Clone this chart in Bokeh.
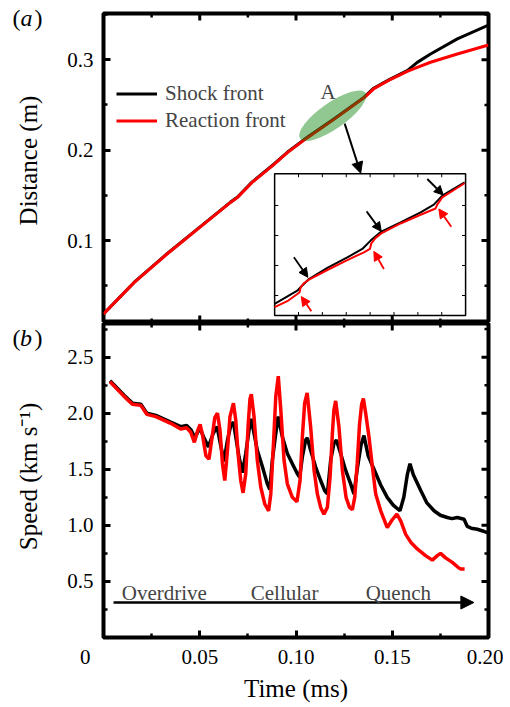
import math
from bokeh.plotting import figure
from bokeh.layouts import column, row
from bokeh.models import (Range1d, FixedTicker, Label, Arrow, NormalHead,
                          Legend, LegendItem, PrintfTickFormatter)
from bokeh.core.properties import value
from bokeh.embed import file_html
from bokeh.resources import INLINE

FONT = "Liberation Serif"

# ---------------- data: panel (a) distance ----------------
time_a_shock = [0.000, 0.016, 0.033, 0.050, 0.066, 0.0695, 0.077, 0.0886, 0.0955, 0.1059,
                0.1197, 0.1353, 0.1405, 0.1492, 0.1578, 0.1630, 0.1699, 0.1838, 0.2000]
dist_shock = [0.019, 0.054, 0.0855, 0.1150, 0.1426, 0.1480, 0.1644, 0.1847, 0.1976, 0.2142,
              0.2345, 0.2583, 0.2687, 0.2787, 0.2878, 0.2970, 0.3063, 0.3229, 0.3382]
time_a_react = [0.000, 0.016, 0.033, 0.050, 0.066, 0.0695, 0.077, 0.0886, 0.0955, 0.1059,
                0.1197, 0.1353, 0.1405, 0.1492, 0.1578, 0.1630, 0.1699, 0.1838, 0.2000]
dist_react = [0.019, 0.0538, 0.0852, 0.1146, 0.1422, 0.1475, 0.1640, 0.1842, 0.1972, 0.2138,
              0.2340, 0.2578, 0.2680, 0.2783, 0.2870, 0.2915, 0.2971, 0.3063, 0.3162]

# ---------------- data: inset (zoom of region A) ----------------
inset_t_shock = [0.1040, 0.1078, 0.10847, 0.10975, 0.11283, 0.11618, 0.11869, 0.12008,
                 0.12187, 0.1251, 0.12846, 0.13068, 0.13209, 0.13583]
inset_d_shock = [0.2172, 0.2216, 0.2230, 0.2255, 0.2292, 0.2327, 0.2355, 0.2383,
                 0.2413, 0.2444, 0.2477, 0.2503, 0.2533, 0.2577]
inset_t_react = [0.1040, 0.10613, 0.1078, 0.10819, 0.10836, 0.10891, 0.10975, 0.11283,
                 0.11618, 0.11896, 0.11997, 0.1202, 0.12092, 0.12187, 0.1251, 0.12846,
                 0.13097, 0.13125, 0.13209, 0.13583]
inset_d_react = [0.2161, 0.2181, 0.2205, 0.2211, 0.2227, 0.2241, 0.2253, 0.2285,
                 0.2318, 0.2344, 0.2355, 0.2374, 0.2392, 0.2407, 0.2440, 0.2469,
                 0.2490, 0.2503, 0.2527, 0.2574]
inset_x_ticks = [0.108, 0.112, 0.116, 0.120, 0.124, 0.128, 0.132]
inset_y_ticks = [0.22, 0.23, 0.24, 0.25]
# arrows in inset: (t_tail, d_tail, t_head, d_head)
inset_shock_arrows = [(0.10723, 0.23272, 0.10957, 0.22606),
                      (0.11941, 0.24803, 0.12187, 0.24137),
                      (0.12958, 0.25882, 0.13226, 0.25349)]
inset_react_arrows = [(0.11015, 0.21473, 0.10847, 0.21963),
                      (0.12231, 0.22885, 0.12063, 0.23471),
                      (0.13360, 0.24294, 0.13152, 0.24883)]

# ---------------- data: panel (b) speed ----------------
time_b_shock = [0.0034, 0.0107, 0.0150, 0.0194, 0.0225, 0.0272, 0.0349, 0.0401, 0.0432, 0.0455,
                0.0475, 0.0500, 0.0522, 0.0545, 0.0570, 0.0590, 0.0608, 0.0626, 0.0644, 0.0661,
                0.0675, 0.0687, 0.0704, 0.0722, 0.0739, 0.0756, 0.0768, 0.0782, 0.0799, 0.0826,
                0.0851, 0.0864, 0.0877, 0.0895, 0.0907, 0.0929, 0.0955, 0.0981, 0.1007, 0.1019,
                0.1033, 0.1050, 0.1059, 0.1076, 0.1102, 0.1128, 0.1149, 0.1163, 0.1180, 0.1197,
                0.1210, 0.1232, 0.1258, 0.1284, 0.1301, 0.1318, 0.1338, 0.1353, 0.1375, 0.1405,
                0.1440, 0.1474, 0.1505, 0.1540, 0.1560, 0.1578, 0.1592, 0.1610, 0.1648, 0.1680,
                0.1717, 0.1750, 0.1786, 0.1810, 0.1838, 0.1873, 0.1890, 0.1910, 0.1942, 0.1970,
                0.2000]
speed_shock = [2.29, 2.16, 2.09, 2.08, 2.00, 1.98, 1.92, 1.88, 1.89, 1.85,
               1.78, 1.87, 1.78, 1.70, 1.82, 1.88, 1.72, 1.57, 1.76, 1.89,
               1.92, 1.79, 1.61, 1.47, 1.64, 1.85, 1.95, 1.82, 1.67, 1.52,
               1.37, 1.32, 1.58, 1.82, 1.97, 1.79, 1.64, 1.55, 1.46, 1.43,
               1.61, 1.76, 1.78, 1.67, 1.52, 1.40, 1.31, 1.28, 1.58, 1.73,
               1.76, 1.64, 1.49, 1.37, 1.28, 1.50, 1.72, 1.80, 1.62, 1.50,
               1.36, 1.25, 1.18, 1.13, 1.25, 1.45, 1.55, 1.45, 1.31, 1.20,
               1.13, 1.09, 1.07, 1.06, 1.07, 1.055, 0.99, 0.975, 0.965, 0.95,
               0.93]
time_b_react = [0.0034, 0.0107, 0.0150, 0.0194, 0.0225, 0.0272, 0.0349, 0.0401, 0.0432, 0.0453,
                0.0472, 0.0488, 0.0502, 0.0515, 0.0532, 0.0548, 0.0562, 0.0578, 0.0592, 0.0605,
                0.0618, 0.0630, 0.0644, 0.0657, 0.0675, 0.0687, 0.0699, 0.0713, 0.0725, 0.0739,
                0.0751, 0.0761, 0.0768, 0.0782, 0.0799, 0.0817, 0.0838, 0.0858, 0.0869, 0.0883,
                0.0895, 0.0908, 0.0921, 0.0938, 0.0955, 0.0981, 0.1005, 0.1021, 0.1033, 0.1045,
                0.1058, 0.1076, 0.1094, 0.1111, 0.1128, 0.1145, 0.1163, 0.1177, 0.1189, 0.1197,
                0.1206, 0.1223, 0.1241, 0.1260, 0.1278, 0.1293, 0.1305, 0.1318, 0.1330, 0.1341,
                0.1350, 0.1362, 0.1379, 0.1397, 0.1414, 0.1440, 0.1474, 0.1500, 0.1524, 0.1544,
                0.1570, 0.1596, 0.1630, 0.1673, 0.1708, 0.1734, 0.1751, 0.1777, 0.1812, 0.1846,
                0.1858, 0.1876]
speed_react = [2.28, 2.15, 2.08, 2.07, 1.99, 1.97, 1.91, 1.86, 1.87, 1.83,
               1.74, 1.84, 1.90, 1.80, 1.62, 1.59, 1.76, 1.96, 2.00, 1.85,
               1.55, 1.40, 1.67, 1.97, 2.09, 1.94, 1.64, 1.40, 1.29, 1.46,
               1.88, 2.13, 2.17, 1.97, 1.58, 1.34, 1.19, 1.13, 1.28, 1.73,
               2.15, 2.33, 2.03, 1.58, 1.37, 1.25, 1.21, 1.40, 1.79, 2.09,
               2.18, 1.88, 1.49, 1.28, 1.16, 1.10, 1.16, 1.43, 1.82, 2.03,
               2.11, 1.88, 1.49, 1.25, 1.16, 1.14, 1.25, 1.55, 1.90, 2.08,
               2.13, 2.00, 1.79, 1.52, 1.28, 1.13, 0.98, 1.05, 1.10, 1.04,
               0.92, 0.85, 0.79, 0.73, 0.69, 0.73, 0.75, 0.71, 0.67, 0.62,
               0.61, 0.61]

# ---------------- ticks / texts ----------------
x_ticks = [0.0, 0.05, 0.10, 0.15, 0.20]
x_minor = [0.025, 0.075, 0.125, 0.175]
ya_ticks = [0.1, 0.2, 0.3]
ya_minor = [0.05, 0.15, 0.25, 0.35]
yb_ticks = [0.5, 1.0, 1.5, 2.0, 2.5]
yb_minor = [0.25, 0.75, 1.25, 1.75, 2.25, 2.75]

phase_labels = ["Overdrive", "Cellular", "Quench"]
phase_label_t = [0.0095, 0.0765, 0.1362]

XR = (0.0, 0.2)
YA = (0.0095, 0.351)
YB = (0.0, 2.8)


def style_axis(ax, ticks, minor, fmt):
    ax.ticker = FixedTicker(ticks=ticks, minor_ticks=minor)
    ax.formatter = PrintfTickFormatter(format=fmt)
    ax.axis_line_color = None
    ax.major_tick_in = 7
    ax.major_tick_out = 0
    ax.minor_tick_in = 4
    ax.minor_tick_out = 0
    ax.major_tick_line_width = 3
    ax.minor_tick_line_width = 2.5
    ax.major_tick_line_color = "black"
    ax.minor_tick_line_color = "black"
    ax.major_label_text_font = FONT
    ax.major_label_text_font_size = "21px"
    ax.major_label_text_color = "black"
    ax.axis_label_text_font = FONT
    ax.axis_label_text_font_size = "25px"
    ax.axis_label_text_font_style = "normal"
    ax.axis_label_text_color = "black"


def make_fig(yr, fh, top, bottom, xaxis):
    p = figure(frame_width=385, frame_height=fh, x_range=Range1d(*XR), y_range=Range1d(*yr),
               output_backend="svg", toolbar_location=None, x_axis_location=xaxis,
               min_border_left=58, min_border_right=15, min_border_top=top,
               min_border_bottom=bottom)
    p.grid.visible = False
    p.outline_line_color = "black"
    p.outline_line_width = 4
    p.background_fill_color = "white"
    p.border_fill_color = "white"
    return p


def mirror_ticks(p, yr, xt, xm, yt, ym, sides):
    # inward ticks drawn as dashes centred on the frame edge (outer half is clipped)
    for side in sides:
        if side in ("top", "bottom"):
            y_edge = yr[1] if side == "top" else yr[0]
            p.scatter(x=xt, y=[y_edge] * len(xt), marker="dash", size=14, angle=math.pi / 2,
                      line_color="black", line_width=3)
            p.scatter(x=xm, y=[y_edge] * len(xm), marker="dash", size=8, angle=math.pi / 2,
                      line_color="black", line_width=2.5)
        else:
            x_edge = XR[1] if side == "right" else XR[0]
            p.scatter(x=[x_edge] * len(yt), y=yt, marker="dash", size=14,
                      line_color="black", line_width=3)
            p.scatter(x=[x_edge] * len(ym), y=ym, marker="dash", size=8,
                      line_color="black", line_width=2.5)


# ================= panel (a) =================
p1 = make_fig(YA, 309, 13, 0, None)
style_axis(p1.yaxis[0], ya_ticks, ya_minor, "%.1f")
p1.yaxis[0].major_label_standoff = 10
mirror_ticks(p1, YA, x_ticks, x_minor, ya_ticks, ya_minor, ("top", "bottom", "right"))

rs = p1.line(time_a_shock, dist_shock, line_color="black", line_width=3)
rr = p1.line(time_a_react, dist_react, line_color="red", line_width=3)

p1.ellipse(x=[0.1191], y=[0.2381], width=80, height=26, width_units="screen",
           height_units="screen", angle=0.61, fill_color="#008000", fill_alpha=0.43,
           line_color=None)
p1.add_layout(Label(x=0.1167, y=0.2646, text="A", text_font=FONT, text_font_size="21px",
                    text_align="center", text_baseline="middle"))
p1.add_layout(Arrow(x_start=0.1253, y_start=0.2293, x_end=0.1336, y_end=0.1745,
                    line_width=2, line_color="black",
                    end=NormalHead(size=11, fill_color="black", line_color="black")))

# inset
IX_SRC = (0.104, 0.136)
IY_SRC = (0.2133, 0.2606)
IX_TGT = (0.0889, 0.1881)
IY_TGT = (0.0171, 0.1740)
sub = p1.subplot(x_source=Range1d(*IX_SRC), y_source=Range1d(*IY_SRC),
                 x_target=Range1d(*IX_TGT), y_target=Range1d(*IY_TGT))
sub.quad(left=[IX_SRC[0]], right=[IX_SRC[1]], bottom=[IY_SRC[0]], top=[IY_SRC[1]],
         fill_color="white", line_color="black", line_width=1.5)
tx = 0.0006
ty = 0.0012
nx = len(inset_x_ticks)
ny = len(inset_y_ticks)
sub.segment(x0=inset_x_ticks, y0=[IY_SRC[0]] * nx, x1=inset_x_ticks, y1=[IY_SRC[0] + ty] * nx,
            line_color="black", line_width=1)
sub.segment(x0=inset_x_ticks, y0=[IY_SRC[1]] * nx, x1=inset_x_ticks, y1=[IY_SRC[1] - ty] * nx,
            line_color="black", line_width=1)
sub.segment(x0=[IX_SRC[0]] * ny, y0=inset_y_ticks, x1=[IX_SRC[0] + tx] * ny, y1=inset_y_ticks,
            line_color="black", line_width=1)
sub.segment(x0=[IX_SRC[1]] * ny, y0=inset_y_ticks, x1=[IX_SRC[1] - tx] * ny, y1=inset_y_ticks,
            line_color="black", line_width=1)
sub.line(inset_t_shock, inset_d_shock, line_color="black", line_width=2)
sub.line(inset_t_react, inset_d_react, line_color="red", line_width=2)


def to_main(t, d):
    x = IX_TGT[0] + (t - IX_SRC[0]) / (IX_SRC[1] - IX_SRC[0]) * (IX_TGT[1] - IX_TGT[0])
    y = IY_TGT[0] + (d - IY_SRC[0]) / (IY_SRC[1] - IY_SRC[0]) * (IY_TGT[1] - IY_TGT[0])
    return x, y


for arrows, col in ((inset_shock_arrows, "black"), (inset_react_arrows, "red")):
    for (t0, d0, t1, d1) in arrows:
        xs, ys = to_main(t0, d0)
        xe, ye = to_main(t1, d1)
        p1.add_layout(Arrow(x_start=xs, y_start=ys, x_end=xe, y_end=ye, line_width=1.8,
                            line_color=col,
                            end=NormalHead(size=9, fill_color=col, line_color=col)))

legend = Legend(items=[LegendItem(label="Shock front", renderers=[rs]),
                       LegendItem(label="Reaction front", renderers=[rr])],
                location=(13, 189), padding=0, margin=0, spacing=2, glyph_width=41,
                glyph_height=21, label_height=21, label_standoff=8,
                label_text_font=FONT, label_text_font_size="21px",
                label_text_line_height=1.0,
                border_line_color=None, background_fill_alpha=0)
p1.add_layout(legend)

# ================= panel (b) =================
p2 = make_fig(YB, 314, 1, 70, "below")
style_axis(p2.xaxis[0], x_ticks, x_minor, "%.2f")
p2.xaxis[0].major_label_overrides = {0: "0" + "\u00a0" * 7}
p2.xaxis[0].major_label_standoff = 7
p2.xaxis[0].axis_label = "Time (ms)"
p2.xaxis[0].axis_label_standoff = 3
style_axis(p2.yaxis[0], yb_ticks, yb_minor, "%.1f")
p2.yaxis[0].major_label_standoff = 10
mirror_ticks(p2, YB, x_ticks, x_minor, yb_ticks, yb_minor, ("top", "right"))

p2.line(time_b_shock, speed_shock, line_color="black", line_width=3.5)
p2.line(time_b_react, speed_react, line_color="red", line_width=3.5)

p2.add_layout(Arrow(x_start=0.0052, y_start=0.312, x_end=0.1924, y_end=0.312, line_width=2.5,
                    line_color="black",
                    end=NormalHead(size=13, fill_color="black", line_color="black")))
for txt, t in zip(phase_labels, phase_label_t):
    p2.add_layout(Label(x=t, y=0.393, text=txt, text_font=FONT, text_font_size="21px",
                        text_align="left", text_baseline="alphabetic"))

# ================= left strip: panel tags and y-axis titles =================
strip = figure(width=45, height=707, x_range=Range1d(0, 45), y_range=Range1d(707, 0),
               output_backend="svg", toolbar_location=None, x_axis_location=None,
               y_axis_location=None, min_border=0)
strip.grid.visible = False
strip.outline_line_color = None
strip.background_fill_color = "white"
strip.border_fill_color = "white"
strip.text(x=[12, 34, 12, 34], y=[17.5, 17.5, 337, 337], text=["(", ")", "(", ")"],
           text_font=value(FONT), text_font_size="24px", text_baseline="middle",
           text_align="left", text_color="black")
strip.text(x=[20, 19.5], y=[17.5, 337], text=["a", "b"], text_font=value(FONT),
           text_font_size="24px", text_font_style="italic", text_baseline="middle",
           text_align="left", text_color="black")
strip.text(x=[28, 28], y=[160, 476], text=["Distance (m)", "Speed (km s\u207b\u00b9)"],
           angle=math.pi / 2, text_font=value(FONT), text_font_size="25px",
           text_baseline="middle", text_align="center", text_color="black")

layout = row(strip, column(p1, p2, spacing=0), spacing=0)
open("out.html", "w").write(file_html(layout, INLINE))
